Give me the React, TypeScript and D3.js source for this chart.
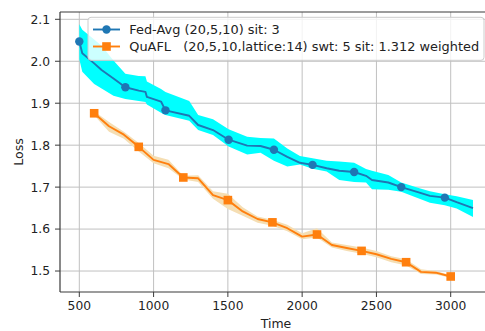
import React from "react";
import * as d3 from "d3";

// Fed-Avg loss over time: mean and spread band
const fedTime = [500, 520, 600, 650, 730, 810, 900, 945, 955, 1050, 1080, 1240, 1300, 1400, 1505, 1630, 1720, 1810, 1900, 1985, 2070, 2165, 2250, 2350, 2430, 2470, 2580, 2667, 2790, 2860, 2960, 3040, 3150];
const fedMean = [2.047, 2.019, 1.995, 1.979, 1.959, 1.938, 1.930, 1.927, 1.915, 1.904, 1.883, 1.870, 1.848, 1.836, 1.813, 1.799, 1.798, 1.789, 1.772, 1.758, 1.753, 1.745, 1.739, 1.736, 1.727, 1.717, 1.711, 1.700, 1.687, 1.679, 1.675, 1.664, 1.650];
const fedUpper = [2.088, 2.075, 2.052, 2.037, 2.002, 1.970, 1.965, 1.964, 1.952, 1.934, 1.927, 1.905, 1.872, 1.862, 1.838, 1.820, 1.817, 1.816, 1.792, 1.774, 1.769, 1.763, 1.761, 1.758, 1.743, 1.739, 1.729, 1.711, 1.697, 1.690, 1.683, 1.678, 1.669];
const fedLower = [2.005, 1.975, 1.946, 1.935, 1.918, 1.910, 1.905, 1.903, 1.897, 1.877, 1.872, 1.858, 1.836, 1.824, 1.797, 1.778, 1.782, 1.763, 1.749, 1.754, 1.744, 1.737, 1.717, 1.712, 1.711, 1.695, 1.694, 1.689, 1.672, 1.663, 1.657, 1.649, 1.629];
const fedMarkerTimes = [500, 810, 1080, 1505, 1810, 2070, 2350, 2667, 2960];

// QuAFL loss over time
const quaTime = [600, 700, 800, 900, 1000, 1100, 1200, 1300, 1400, 1500, 1600, 1700, 1800, 1900, 2000, 2100, 2200, 2300, 2400, 2500, 2600, 2700, 2800, 2900, 3000];
const quaMean = [1.876, 1.845, 1.825, 1.796, 1.765, 1.755, 1.723, 1.721, 1.681, 1.669, 1.642, 1.624, 1.616, 1.602, 1.582, 1.587, 1.562, 1.555, 1.548, 1.540, 1.529, 1.521, 1.498, 1.496, 1.487];
const quaUpper = [1.881, 1.855, 1.832, 1.805, 1.775, 1.765, 1.727, 1.728, 1.690, 1.684, 1.652, 1.630, 1.622, 1.610, 1.590, 1.602, 1.568, 1.562, 1.556, 1.548, 1.535, 1.528, 1.504, 1.500, 1.490];
const quaLower = [1.871, 1.832, 1.815, 1.785, 1.757, 1.745, 1.718, 1.712, 1.672, 1.648, 1.632, 1.615, 1.608, 1.595, 1.576, 1.580, 1.556, 1.548, 1.541, 1.533, 1.521, 1.513, 1.493, 1.492, 1.484];
const quaMarkerEvery = 3;

const xTicks = [500, 1000, 1500, 2000, 2500, 3000];
const yTicks = [1.5, 1.6, 1.7, 1.8, 1.9, 2.0, 2.1];

const legendLabels = [
  "Fed-Avg (20,5,10) sit: 3",
  "QuAFL   (20,5,10,lattice:14) swt: 5 sit: 1.312 weighted",
];

const W = 485;
const H = 331;
const left = 60;
const right = 492;
const top = 12;
const bottom = 292;

const FONT = "'DejaVu Sans', sans-serif";
const BLUE = "#1f77b4";
const ORANGE = "#ff7f0e";

export default function App() {
  const x = d3.scaleLinear().domain([370, 3278]).range([left, right]);
  const y = d3.scaleLinear().domain([1.45, 2.1174]).range([bottom, top]);

  const fed = fedTime.map((t, i) => ({ t, m: fedMean[i], lo: fedLower[i], hi: fedUpper[i] }));
  const qua = quaTime.map((t, i) => ({ t, m: quaMean[i], lo: quaLower[i], hi: quaUpper[i] }));

  type P = { t: number; m: number; lo: number; hi: number };
  const line = d3.line<P>().x((d) => x(d.t)).y((d) => y(d.m));
  const area = d3.area<P>().x((d) => x(d.t)).y0((d) => y(d.lo)).y1((d) => y(d.hi));

  const fedMarks = fed.filter((d) => fedMarkerTimes.includes(d.t));
  const quaMarks = qua.filter((_, i) => i % quaMarkerEvery === 0);

  const lgX = 88;
  const lgY = 17.3;
  const lgW = 396;
  const lgH = 43;
  const rows = [29.5, 46.5];
  const fs = 12.5;
  const legendFs = 12.9;

  return (
    <svg
      width={W}
      height={H}
      style={{ position: "absolute", left: 0, top: 0, background: "#fff" }}
      fontFamily={FONT}
    >
      <defs>
        <clipPath id="plotArea">
          <rect x={left} y={top} width={right - left} height={bottom - top} />
        </clipPath>
      </defs>
      <rect x={0} y={0} width={W} height={H} fill="#fff" />

      {/* grid */}
      <g stroke="#c0c0c0" strokeWidth={1}>
        {xTicks.map((t) => (
          <line key={"gx" + t} x1={x(t)} x2={x(t)} y1={top} y2={bottom} />
        ))}
        {yTicks.map((t) => (
          <line key={"gy" + t} x1={left} x2={right} y1={y(t)} y2={y(t)} />
        ))}
      </g>

      <g clipPath="url(#plotArea)">
        <path d={area(fed) ?? ""} fill="#00ffff" />
        <path d={area(qua) ?? ""} fill="#f5deb3" />
        <path d={line(fed) ?? ""} fill="none" stroke={BLUE} strokeWidth={1.9} strokeLinejoin="round" />
        <path d={line(qua) ?? ""} fill="none" stroke={ORANGE} strokeWidth={1.9} strokeLinejoin="round" />
        {fedMarks.map((d) => (
          <circle key={"fm" + d.t} cx={x(d.t)} cy={y(d.m)} r={4.2} fill={BLUE} />
        ))}
        {quaMarks.map((d) => (
          <rect key={"qm" + d.t} x={x(d.t) - 4.3} y={y(d.m) - 4.3} width={8.6} height={8.6} fill={ORANGE} />
        ))}
      </g>

      {/* spines */}
      <g stroke="#3a3a3a" strokeWidth={1.2} fill="none">
        <line x1={left} x2={left} y1={top} y2={bottom} />
        <line x1={left} x2={right} y1={bottom} y2={bottom} />
        <line x1={left} x2={right} y1={top} y2={top} />
      </g>

      {/* ticks */}
      <g stroke="#3a3a3a" strokeWidth={1}>
        {xTicks.map((t) => (
          <line key={"tx" + t} x1={x(t)} x2={x(t)} y1={bottom} y2={bottom + 5} />
        ))}
        {yTicks.map((t) => (
          <line key={"ty" + t} x1={left - 5} x2={left} y1={y(t)} y2={y(t)} />
        ))}
      </g>
      <g fontSize={12.3} fill="#222">
        {xTicks.map((t) => (
          <text key={"lx" + t} x={x(t)} y={310} textAnchor="middle">
            {d3.format("d")(t)}
          </text>
        ))}
        {yTicks.map((t) => (
          <text key={"ly" + t} x={50} y={y(t) + 4.4} textAnchor="end">
            {d3.format(".1f")(t)}
          </text>
        ))}
      </g>

      <text x={(left + right) / 2} y={328} textAnchor="middle" fontSize={fs} fill="#222">
        Time
      </text>
      <text
        transform={`translate(${23},${(top + bottom) / 2}) rotate(-90)`}
        textAnchor="middle"
        fontSize={fs}
        fill="#222"
      >
        Loss
      </text>

      {/* legend */}
      <rect x={lgX} y={lgY} width={lgW} height={lgH} rx={3} fill="#fff" fillOpacity={0.8} stroke="#cccccc" strokeWidth={1} />
      <line x1={93} x2={120} y1={rows[0]} y2={rows[0]} stroke={BLUE} strokeWidth={1.9} />
      <circle cx={106.5} cy={rows[0]} r={4.2} fill={BLUE} />
      <line x1={93} x2={120} y1={rows[1]} y2={rows[1]} stroke={ORANGE} strokeWidth={1.9} />
      <rect x={106.5 - 4.3} y={rows[1] - 4.3} width={8.6} height={8.6} fill={ORANGE} />
      {legendLabels.map((s, i) => (
        <text key={"lg" + i} x={129.3} y={rows[i] + 4.6} fontSize={legendFs} fill="#222" style={{ whiteSpace: "pre" }}>
          {s}
        </text>
      ))}
    </svg>
  );
}
